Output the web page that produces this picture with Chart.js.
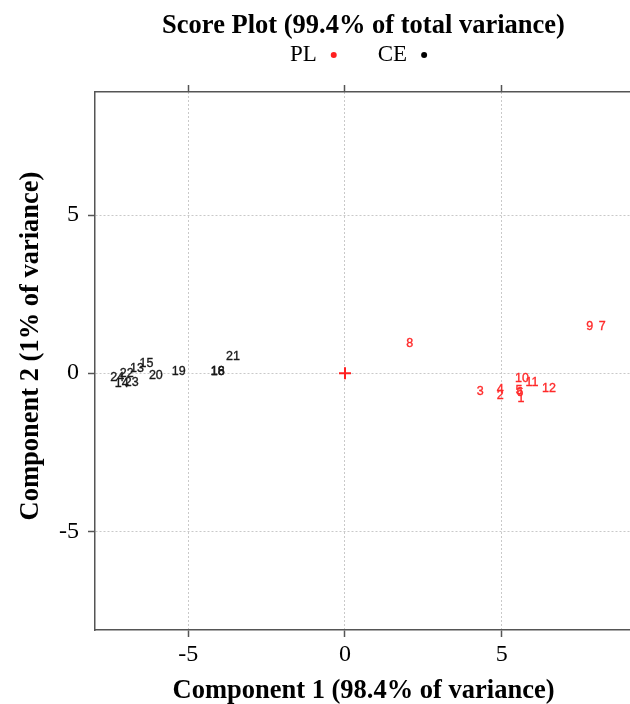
<!DOCTYPE html>
<html>
<head>
<meta charset="utf-8">
<script src="https://cdn.jsdelivr.net/npm/chart.js@4.4.1/dist/chart.umd.min.js"></script>
<style>
html, body { margin: 0; padding: 0; background: #fff; overflow: hidden; }
#wrap { width: 640px; height: 704px; position: relative; }
</style>
</head>
<body>
<div id="wrap"><canvas id="c"></canvas></div>
<script>
// ---- data ----
const plLabels = ['1', '2', '3', '4', '5', '6', '7', '8', '9', '10', '11', '12'];
const plX = [5.61, 4.95, 4.31, 4.95, 5.55, 5.58, 8.20, 2.06, 7.80, 5.64, 5.96, 6.50];
const plY = [-0.81, -0.72, -0.59, -0.53, -0.56, -0.62, 1.47, 0.95, 1.46, -0.18, -0.31, -0.50];

const ceLabels = ['13', '14', '15', '16', '18', '19', '20', '21', '22', '23', '24'];
const ceX = [-6.63, -7.12, -6.33, -4.06, -4.06, -5.30, -6.03, -3.57, -6.96, -6.80, -7.26];
const ceY = [0.16, -0.32, 0.29, 0.05, 0.05, 0.05, -0.09, 0.52, 0.00, -0.29, -0.13];

const centreX = [0];
const centreY = [0];

const xTicks = [-5, 0, 5];
const yTicks = [-5, 0, 5];

const chartTitle = 'Score Plot (99.4% of total variance)';
const xTitle = 'Component 1 (98.4% of variance)';
const yTitle = 'Component 2 (1% of variance)';
const seriesNames = ['PL', 'CE'];
const seriesColors = ['#ff1f1f', '#000000'];
const labelColors = ['#ff2a2a', '#1a1a1a'];

// ---- build chart ----
const toPts = (xs, ys) => xs.map((x, i) => ({ x: x, y: ys[i] }));

const serif = '"Liberation Serif", "DejaVu Serif", serif';

const setTicks = (vals) => (scale) => { scale.ticks = vals.map(v => ({ value: v })); };

const pointLabelPlugin = {
  id: 'pointLabels',
  afterDatasetsDraw(chart) {
    const ctx = chart.ctx;
    ctx.save();
    ctx.font = '12.5px "Liberation Sans", Arial, sans-serif';
    ctx.textAlign = 'center';
    ctx.textBaseline = 'middle';
    ctx.lineWidth = 0.35;
    chart.data.datasets.forEach((ds, di) => {
      if (!ds.pointLabels) return;
      const meta = chart.getDatasetMeta(di);
      ctx.fillStyle = ds.labelColor;
      ctx.strokeStyle = ds.labelColor;
      meta.data.forEach((el, i) => {
        ctx.fillText(ds.pointLabels[i], el.x, el.y);
        ctx.strokeText(ds.pointLabels[i], el.x, el.y);
      });
    });
    ctx.restore();
  }
};

const legendPlugin = {
  id: 'customLegend',
  afterDraw(chart) {
    const ctx = chart.ctx;
    const ca = chart.chartArea;
    ctx.save();
    ctx.font = '23px ' + serif;
    ctx.textBaseline = 'middle';
    ctx.textAlign = 'left';
    const gap = 14, dot = 3, itemGap = 41;
    const widths = seriesNames.map(n => ctx.measureText(n).width);
    let total = 0;
    widths.forEach((w, i) => { total += w + gap + dot * 2; if (i < widths.length - 1) total += itemGap; });
    let x = (ca.left + ca.right) / 2 - 5 - total / 2;
    const y = 55;
    seriesNames.forEach((n, i) => {
      ctx.fillStyle = '#000';
      ctx.fillText(n, x, y);
      x += widths[i] + gap;
      ctx.beginPath();
      ctx.fillStyle = seriesColors[i];
      ctx.arc(x + dot, y, dot, 0, Math.PI * 2);
      ctx.fill();
      x += dot * 2 + itemGap;
    });
    // y axis title
    ctx.save();
    ctx.font = 'bold 26.5px ' + serif;
    ctx.textAlign = 'center';
    ctx.textBaseline = 'middle';
    ctx.fillStyle = '#000';
    ctx.translate(31, (ca.top + ca.bottom) / 2 - 15);
    ctx.rotate(-Math.PI / 2);
    ctx.fillText(yTitle, 0, 0);
    ctx.restore();
    ctx.restore();
  }
};

const gridCommon = {
  color: '#c9c9c9',
  lineWidth: 1,
  tickColor: '#555',
  tickWidth: 1.5,
  tickLength: 7,
  tickBorderDash: []
};
const borderCommon = { display: true, color: '#555', width: 1.5, dash: [2, 2] };

new Chart(document.getElementById('c'), {
  type: 'scatter',
  data: {
    datasets: [
      {
        label: seriesNames[0],
        data: toPts(plX, plY),
        pointLabels: plLabels,
        labelColor: labelColors[0],
        backgroundColor: seriesColors[0],
        borderColor: seriesColors[0],
        pointRadius: 0,
        pointHoverRadius: 0
      },
      {
        label: seriesNames[1],
        data: toPts(ceX, ceY),
        pointLabels: ceLabels,
        labelColor: labelColors[1],
        backgroundColor: seriesColors[1],
        borderColor: seriesColors[1],
        pointRadius: 0,
        pointHoverRadius: 0
      },
      {
        label: 'centre',
        data: toPts(centreX, centreY),
        pointStyle: 'cross',
        pointRadius: 6,
        borderWidth: 2,
        borderColor: '#ff1f1f',
        backgroundColor: '#ff1f1f'
      }
    ]
  },
  options: {
    responsive: true,
    maintainAspectRatio: false,
    animation: false,
    layout: { padding: { left: 0, right: 4, top: 0, bottom: 0 } },
    plugins: {
      legend: { display: false },
      tooltip: { enabled: false },
      title: {
        display: true,
        text: chartTitle,
        fullSize: false,
        color: '#000',
        font: { family: serif, size: 26.5, weight: 'bold' },
        padding: { top: 10, bottom: 43.2 }
      }
    },
    scales: {
      x: {
        type: 'linear',
        position: 'bottom',
        min: -7.97,
        max: 9.15,
        afterBuildTicks: setTicks(xTicks),
        afterFit: (s) => { s.height = 74; },
        grid: gridCommon,
        border: borderCommon,
        ticks: {
          color: '#000',
          padding: 3,
          font: { family: serif, size: 24 },
          maxRotation: 0
        },
        title: {
          display: true,
          text: xTitle,
          color: '#000',
          font: { family: serif, size: 26.5, weight: 'bold' },
          padding: { top: 0, bottom: -3 }
        }
      },
      x2: {
        type: 'linear',
        position: 'top',
        min: -7.97,
        max: 9.15,
        afterBuildTicks: setTicks(xTicks),
        afterFit: (s) => { s.height = 7; },
        grid: Object.assign({}, gridCommon, { drawOnChartArea: false }),
        border: borderCommon,
        ticks: { display: false }
      },
      y: {
        type: 'linear',
        position: 'left',
        min: -8.12,
        max: 8.89,
        afterBuildTicks: setTicks(yTicks),
        afterFit: (s) => { s.width = 95; },
        grid: gridCommon,
        border: borderCommon,
        ticks: {
          color: '#000',
          padding: 9,
          font: { family: serif, size: 24 }
        },
        title: { display: false, text: yTitle }
      }
    }
  },
  plugins: [pointLabelPlugin, legendPlugin]
});
</script>
</body>
</html>
